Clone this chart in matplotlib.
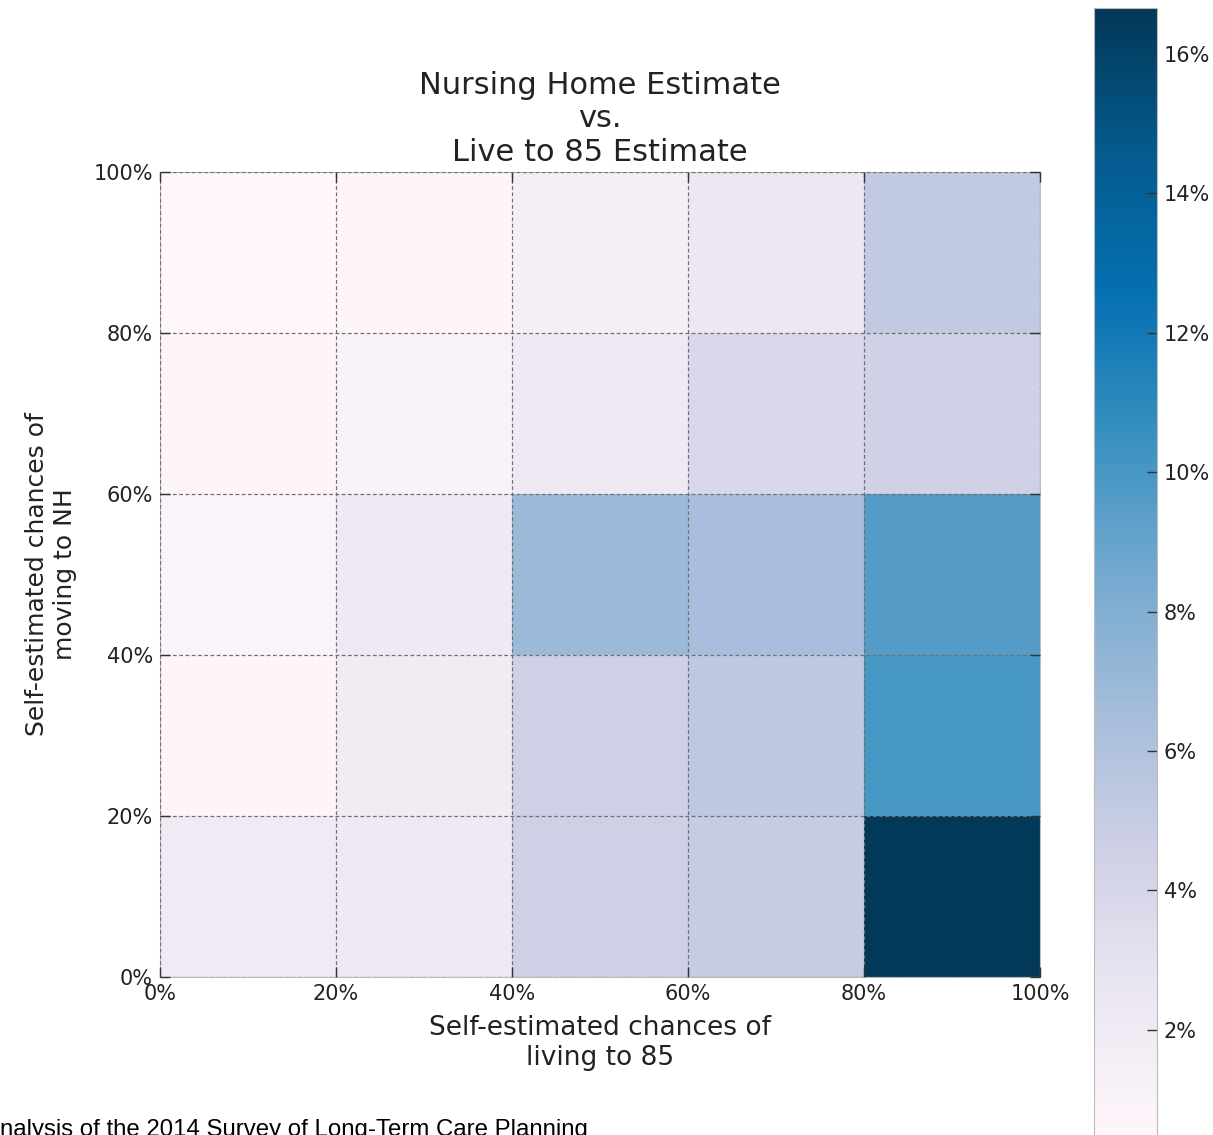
import matplotlib
matplotlib.use('Agg')
import matplotlib.pyplot as plt
import numpy as np
from matplotlib.ticker import FormatStrFormatter

# bin edges (percent) for both survey questions
live85_edges = [0, 20, 40, 60, 80, 100]
nh_edges = [0, 20, 40, 60, 80, 100]

# share of respondents per cell (percent), rows = NH bins from 0-20% upward
row_nh_0_20 = [2.1, 2.2, 4.6, 5.0, 16.66]
row_nh_20_40 = [0.7, 2.0, 4.6, 5.4, 10.0]
row_nh_40_60 = [0.95, 2.2, 6.9, 6.4, 9.6]
row_nh_60_80 = [0.7, 1.1, 2.2, 3.9, 4.5]
row_nh_80_100 = [0.42, 0.7, 1.5, 2.4, 5.2]

cbar_ticks = [2, 4, 6, 8, 10, 12, 14, 16]

W, H = 1213, 1135
fig = plt.figure(figsize=(W / 100, H / 100), dpi=100)
fig.patch.set_facecolor('white')

# axes placed in pixel terms, converted to figure fractions
ax = fig.add_axes([160 / W, 1 - 977 / H, 880 / W, 805 / H])

grid_vals = np.array([row_nh_0_20, row_nh_20_40, row_nh_40_60,
                      row_nh_60_80, row_nh_80_100])
mesh = ax.pcolormesh(live85_edges, nh_edges, grid_vals, cmap='PuBu')

ax.set_xlim(0, 100)
ax.set_ylim(0, 100)
ax.set_xticks(live85_edges)
ax.set_yticks(nh_edges)
ax.xaxis.set_major_formatter(FormatStrFormatter('%d%%'))
ax.yaxis.set_major_formatter(FormatStrFormatter('%d%%'))
ax.tick_params(direction='in', length=7, width=1, color='#333333',
               labelsize=15, labelcolor='#222222', pad=5,
               top=True, right=True)
ax.grid(True, linestyle=(0, (3, 2)), color='#707070', linewidth=0.9)
ax.set_axisbelow(False)
for sp in ax.spines.values():
    sp.set_color('#bbbbbb')

ax.set_title('Nursing Home Estimate\nvs.\nLive to 85 Estimate',
             fontsize=22, color='#222222', pad=8)
ax.set_xlabel('Self-estimated chances of\nliving to 85', fontsize=19,
              color='#222222', va='top')
ax.xaxis.set_label_coords(0.5, -(1015 - 977) / 805)
ax.set_ylabel('Self-estimated chances of\nmoving to NH', fontsize=18,
              color='#222222')
ax.yaxis.set_label_coords(-(160 - 77) / 880, 0.5)

# colorbar runs past the bottom edge, as in the original
cax = fig.add_axes([1094 / W, -5 / H, 63 / W, (H - 8 + 5) / H])
cb = fig.colorbar(mesh, cax=cax, ticks=cbar_ticks, format='%d%%')
cb.outline.set_edgecolor('#bbbbbb')
cax.tick_params(direction='in', length=7, width=1, color='#333333',
                labelsize=15, labelcolor='#222222', pad=5)

fig.text(-16 / W, -1 / H, 'Analysis of the 2014 Survey of Long-Term Care Planning',
         fontsize=17.3, family=['Liberation Sans', 'DejaVu Sans'],
         va='baseline', ha='left', color='black')

fig.savefig('out.png', dpi=100)
